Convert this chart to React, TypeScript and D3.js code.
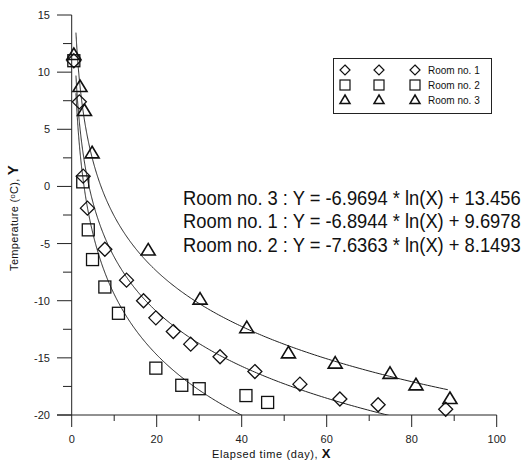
import React from "react";
import * as d3 from "d3";

const room1X = [0.5, 1.8, 2.7, 3.7, 7.8, 12.9, 16.9, 19.8, 23.9, 28, 34.9, 43.1, 53.7, 63.1, 72.1, 88];
const room1Y = [11.0, 7.4, 0.9, -1.9, -5.5, -8.2, -10.0, -11.5, -12.7, -13.8, -14.9, -16.2, -17.3, -18.6, -19.1, -19.5];

const room2X = [0.5, 2.6, 3.9, 4.9, 7.8, 11, 19.8, 25.9, 30, 41, 46.1];
const room2Y = [11.0, 0.4, -3.8, -6.4, -8.8, -11.1, -15.9, -17.4, -17.7, -18.3, -18.9];

const room3X = [0.5, 1.95, 3.0, 4.8, 18, 30.2, 41.2, 51, 62, 74.9, 81, 89];
const room3Y = [11.5, 8.7, 6.6, 2.9, -5.6, -9.9, -12.4, -14.6, -15.5, -16.4, -17.4, -18.6];

// fitted curves Y = a*ln(X) + b
const fitNames = ["Room no. 3", "Room no. 1", "Room no. 2"];
const fitA = [-6.9694, -6.8944, -7.6363];
const fitB = [13.456, 9.6978, 8.1493];
const fitAText = ["-6.9694", "-6.8944", "-7.6363"];
const fitBText = ["13.456", "9.6978", "8.1493"];
const fitStart = [1, 1, 1];
const fitEnd = [88.5, 88, 45];

const xTicks = [0, 20, 40, 60, 80, 100];
const xMinor = [10, 30, 50, 70, 90];
const yTicks = [-20, -15, -10, -5, 0, 5, 10, 15];
const yMinor = [-17.5, -12.5, -7.5, -2.5, 2.5, 7.5, 12.5];

const legendNames = ["Room no. 1", "Room no. 2", "Room no. 3"];

const W = 524;
const H = 463;
const X0 = 71.7;
const X1 = 496.7;
const YT = 15;
const YB = 415;

const FONT = "Arial, 'Liberation Sans', sans-serif";

function Marker({ kind, x, y }: { kind: string; x: number; y: number }) {
  const sw = 1.3;
  if (kind === "diamond") {
    const r = 7;
    return (
      <path d={`M${x},${y - r}L${x + r},${y}L${x},${y + r}L${x - r},${y}Z`} fill="none" stroke="#111" strokeWidth={sw} />
    );
  }
  if (kind === "square") {
    const r = 6;
    return <rect x={x - r} y={y - r} width={2 * r} height={2 * r} fill="none" stroke="#111" strokeWidth={sw} />;
  }
  const r = 7;
  return (
    <path
      d={`M${x},${y - r}L${x + r},${y + r * 0.65}L${x - r},${y + r * 0.65}Z`}
      fill="none"
      stroke="#111"
      strokeWidth={sw + 0.3}
    />
  );
}

function SmallMarker({ kind, x, y }: { kind: string; x: number; y: number }) {
  const sw = 1.2;
  if (kind === "diamond") {
    const r = 5;
    return <path d={`M${x},${y - r}L${x + r},${y}L${x},${y + r}L${x - r},${y}Z`} fill="none" stroke="#111" strokeWidth={sw} />;
  }
  if (kind === "square") {
    const r = 5;
    return <rect x={x - r} y={y - r} width={2 * r} height={2 * r} fill="none" stroke="#111" strokeWidth={sw} />;
  }
  const r = 5;
  return <path d={`M${x},${y - r}L${x + r},${y + r * 0.7}L${x - r},${y + r * 0.7}Z`} fill="none" stroke="#111" strokeWidth={sw + 0.3} />;
}

export default function App() {
  const x = d3.scaleLinear().domain([0, 100]).range([X0, X1]);
  const y = d3.scaleLinear().domain([-20, 15]).range([YB, YT]);

  const line = d3.line<number>().x((d) => x(d));

  const curves = fitA.map((a, i) => {
    const xs = d3.range(0, 401).map((k) => fitStart[i] * Math.pow(fitEnd[i] / fitStart[i], k / 400));
    return line.y((d) => y(a * Math.log(d) + fitB[i]))(xs) || "";
  });

  const series = [
    { kind: "diamond", xs: room1X, ys: room1Y },
    { kind: "square", xs: room2X, ys: room2Y },
    { kind: "triangle", xs: room3X, ys: room3Y },
  ];

  const eqScale = 0.895;

  return (
    <svg width={W} height={H} style={{ display: "block", position: "absolute", left: 0, top: 0 }} fontFamily={FONT}>
      <rect width={W} height={H} fill="white" />
      <defs>
        <clipPath id="plotClip">
          <rect x={X0} y={YT} width={X1 - X0} height={YB - YT} />
        </clipPath>
      </defs>

      {/* axes */}
      <line x1={X0} x2={X0} y1={YT} y2={YB} stroke="#222" strokeWidth={1} />
      <line x1={57} x2={X1} y1={YB} y2={YB} stroke="#222" strokeWidth={1} />
      {yTicks.map((t) => (
        <g key={"yt" + t}>
          <line x1={57} x2={X0} y1={y(t)} y2={y(t)} stroke="#222" strokeWidth={1} />
          <text x={50} y={y(t) + 4} fontSize={11} textAnchor="end" fill="#222">
            {t}
          </text>
        </g>
      ))}
      {yMinor.map((t) => (
        <line key={"ym" + t} x1={63} x2={X0} y1={y(t)} y2={y(t)} stroke="#222" strokeWidth={1} />
      ))}
      {xTicks.map((t) => (
        <g key={"xt" + t}>
          <line x1={x(t)} x2={x(t)} y1={YB} y2={427} stroke="#222" strokeWidth={1} />
          <text x={x(t)} y={443} fontSize={11} textAnchor="middle" fill="#222">
            {t}
          </text>
        </g>
      ))}
      {xMinor.map((t) => (
        <line key={"xm" + t} x1={x(t)} x2={x(t)} y1={YB} y2={421} stroke="#222" strokeWidth={1} />
      ))}

      {/* axis titles */}
      <text x={212} y={458} fontSize={11} letterSpacing={0.6} fill="#111">
        Elapsed time (day),{" "}
        <tspan fontSize={13} fontWeight="bold" letterSpacing={0}>
          X
        </tspan>
      </text>
      <text transform="translate(18,218) rotate(-90)" fontSize={11} letterSpacing={0.3} textAnchor="middle" fill="#111">
        Temperature (
        <tspan fontSize={7.5} dy={-3.5}>
          o
        </tspan>
        <tspan dy={3.5}>C), </tspan>
        <tspan fontSize={15} fontWeight="bold" letterSpacing={0}>
          Y
        </tspan>
      </text>

      {/* fitted curves */}
      <g clipPath="url(#plotClip)">
        {curves.map((d, i) => (
          <path key={"c" + i} d={d} fill="none" stroke="#222" strokeWidth={1} />
        ))}
      </g>

      {/* data markers */}
      {series.map((s) => s.xs.map((xv, i) => <Marker key={s.kind + i} kind={s.kind} x={x(xv)} y={y(s.ys[i])} />))}

      {/* equations */}
      <g transform={`translate(183,0) scale(${eqScale},1)`}>
        {fitNames.map((n, i) => (
          <text key={"eq" + i} x={0} y={205 + i * 23.5} fontSize={20.5} fill="#111">
            {`${n} : Y = ${fitAText[i]} * ln(X) + ${fitBText[i]}`}
          </text>
        ))}
      </g>

      {/* legend */}
      <rect x={333.5} y={58.5} width={158} height={55} fill="white" stroke="#222" strokeWidth={1} />
      {legendNames.map((n, i) => {
        const kind = ["diamond", "square", "triangle"][i];
        const ly = 70 + i * 15;
        return (
          <g key={"lg" + i}>
            {[345, 379, 415].map((lx) => (
              <SmallMarker key={lx} kind={kind} x={lx} y={ly} />
            ))}
            <text x={428} y={ly + 3.5} fontSize={10} fill="#111">
              {n}
            </text>
          </g>
        );
      })}
    </svg>
  );
}
